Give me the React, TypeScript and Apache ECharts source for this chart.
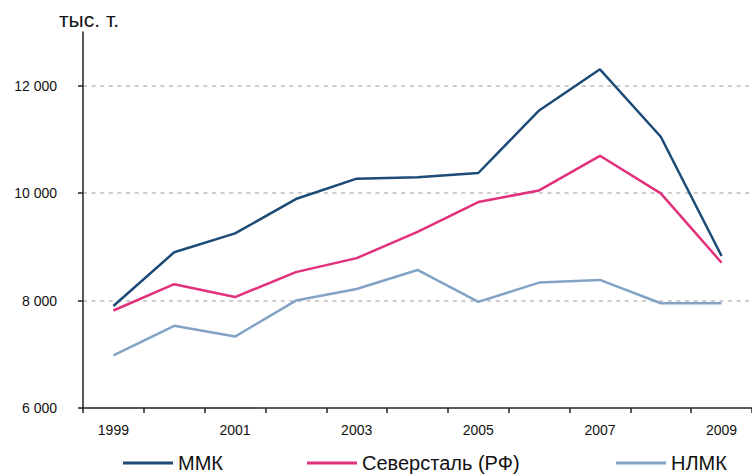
import React, { useEffect, useRef } from "react";
import * as echarts from "echarts";

const years = ["1999", "2000", "2001", "2002", "2003", "2004", "2005", "2006", "2007", "2008", "2009"];
const mmk = [7900, 8900, 9250, 9890, 10270, 10295, 10375, 11540, 12305, 11050, 8830];
const severstal = [7815, 8305, 8065, 8530, 8790, 9280, 9835, 10050, 10695, 9995, 8705];
const nlmk = [6980, 7530, 7330, 8000, 8215, 8570, 7975, 8335, 8385, 7950, 7950];
const yTicks = [6000, 8000, 10000, 12000];
const seriesNames = ["ММК", "Северсталь (РФ)", "НЛМК"];
const unitLabel = "тыс. т.";

const FONT = "'Liberation Sans', Arial, sans-serif";
const COLORS = ["#1d4b77", "#e2317c", "#82a3c6"];

function fmt(v: number): string {
  const th = Math.floor(v / 1000);
  const rest = String(v % 1000).padStart(3, "0");
  return `${th} ${rest}`;
}

export default function App() {
  const ref = useRef<HTMLDivElement>(null);
  useEffect(() => {
    document.body.style.margin = "0";
    if (!ref.current) return;
    const chart = echarts.init(ref.current, null, { renderer: "svg" });
    const values = [mmk, severstal, nlmk];
    const legendLeft = [123, 307, 616];
    chart.setOption({
      animation: false,
      backgroundColor: "#ffffff",
      textStyle: { fontFamily: FONT },
      graphic: [
        {
          type: "text",
          left: 59,
          top: 9,
          style: { text: unitLabel, font: `21px ${FONT}`, fill: "#111" },
        },
      ],
      grid: { left: 83, top: 32, width: 674, height: 376, containLabel: false },
      legend: seriesNames.map((n, i) => ({
        data: [n],
        left: legendLeft[i],
        top: 453,
        icon: "rect",
        itemWidth: 50,
        itemHeight: 3,
        textStyle: { fontFamily: FONT, fontSize: 20, color: "#111" },
        padding: 0,
      })),
      xAxis: {
        type: "category",
        data: years,
        boundaryGap: true,
        axisLine: { lineStyle: { color: "#222", width: 1.5 } },
        axisTick: { show: true, interval: 0, length: 5, lineStyle: { color: "#222", width: 1.5 } },
        axisLabel: { interval: 1, fontSize: 14, color: "#111", margin: 15, fontFamily: FONT },
        splitLine: { show: false },
      },
      yAxis: {
        type: "value",
        min: 6000,
        max: 13000,
        interval: 2000,
        axisLine: { show: true, lineStyle: { color: "#222", width: 1.5 } },
        axisTick: { show: true, length: 5, customValues: yTicks, lineStyle: { color: "#222", width: 1.5 } },
        axisLabel: {
          fontSize: 14,
          color: "#111",
          margin: 26,
          fontFamily: FONT,
          customValues: yTicks,
          formatter: (v: number) => fmt(v),
        },
        splitLine: {
          show: true,
          showMinLine: false,
          showMaxLine: true,
          lineStyle: { color: "#bdbdbd", width: 1.5, type: [4, 4.6] },
        },
      },
      series: seriesNames.map((n, i) => ({
        name: n,
        type: "line",
        data: values[i],
        symbol: "none",
        lineStyle: { color: COLORS[i], width: 2.5 },
        itemStyle: { color: COLORS[i] },
        z: 3 - i,
      })),
    });
    return () => chart.dispose();
  }, []);
  return <div ref={ref} style={{ width: 752, height: 476 }} />;
}
